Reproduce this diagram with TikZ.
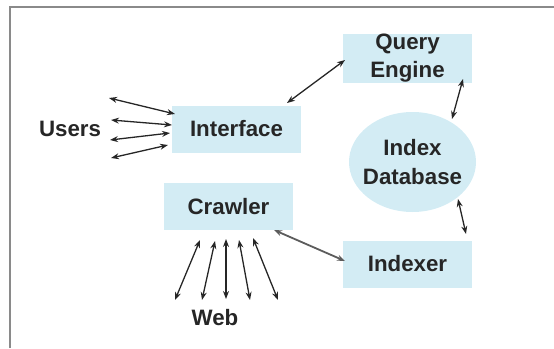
\documentclass[tikz,border=0pt]{standalone}
\usepackage{fontspec}
\setmainfont{Liberation Sans}
\usetikzlibrary{arrows.meta,shapes.geometric}
\definecolor{boxfill}{HTML}{D3ECF4}
\definecolor{ink}{HTML}{262626}
\definecolor{framegray}{HTML}{8A8A8A}
\tikzset{
  comp/.style={fill=boxfill, draw=none, minimum width=129pt, minimum height=47pt,
    font=\fontsize{22.3}{28}\selectfont\bfseries, text=ink, align=center, inner sep=0pt},
  label/.style={font=\fontsize{22.3}{28}\selectfont\bfseries, text=ink, inner sep=0pt},
  link/.style={draw=ink, line width=1.3pt,
    {Stealth[length=8pt,width=6pt]}-{Stealth[length=8pt,width=6pt]}},
}
\begin{document}
\begin{tikzpicture}[x=1pt,y=-1pt]
\useasboundingbox (0,0) rectangle (554,348);
% outer frame
\draw[framegray, line width=1.2pt] (10,348) -- (10,7) -- (554,7);

% components
\node[comp] (query) at (407.5,58.5) {Query\\Engine};
\node[comp] (iface) at (236.5,129) {Interface};
\node[comp] (crawl) at (228.5,206.5) {Crawler};
\node[comp] (idxr) at (407.5,264) {Indexer};
\node[ellipse, fill=boxfill, minimum width=127pt, minimum height=100pt, inner sep=0pt] (db) at (412.5,162) {};
\node[label, align=center, font=\fontsize{22.3}{29}\selectfont\bfseries] (dbtext) at (db.center) {Index\\Database};
\node[label] (users) at (70,129) {Users};
\node[label] (web) at (215,318) {Web};

% user links
\coordinate (u1a) at (109,98);  \coordinate (u1b) at (175,114);
\coordinate (u2a) at (111,120); \coordinate (u2b) at (172,125);
\coordinate (u3a) at (110,140); \coordinate (u3b) at (170,133);
\coordinate (u4a) at (111,158); \coordinate (u4b) at (168,145);
\draw[link] (u1a) -- (u1b);
\draw[link] (u2a) -- (u2b);
\draw[link] (u3a) -- (u3b);
\draw[link] (u4a) -- (u4b);

% web links
\coordinate (w1a) at (200,240); \coordinate (w1b) at (175,300);
\coordinate (w2a) at (215,241); \coordinate (w2b) at (202,300);
\coordinate (w3a) at (226,239); \coordinate (w3b) at (226,299);
\coordinate (w4a) at (239,240); \coordinate (w4b) at (250,300);
\coordinate (w5a) at (253,238); \coordinate (w5b) at (278,300);
\draw[link] (w1a) -- (w1b);
\draw[link] (w2a) -- (w2b);
\draw[link] (w3a) -- (w3b);
\draw[link] (w4a) -- (w4b);
\draw[link] (w5a) -- (w5b);

% component links
\coordinate (iq) at (287,103);  \coordinate (qi) at (345,60);
\coordinate (qd1) at (463,79);  \coordinate (qd2) at (452,119);
\coordinate (di1) at (458,199); \coordinate (di2) at (466,234);
\coordinate (ci1) at (274,230); \coordinate (ci2) at (345,261);
\draw[link] (iq) -- (qi);
\draw[link] (qd1) -- (qd2);
\draw[link] (di1) -- (di2);
\draw[link, draw=ink!75, line width=1.8pt] (ci1) -- (ci2);
\end{tikzpicture}
\end{document}
